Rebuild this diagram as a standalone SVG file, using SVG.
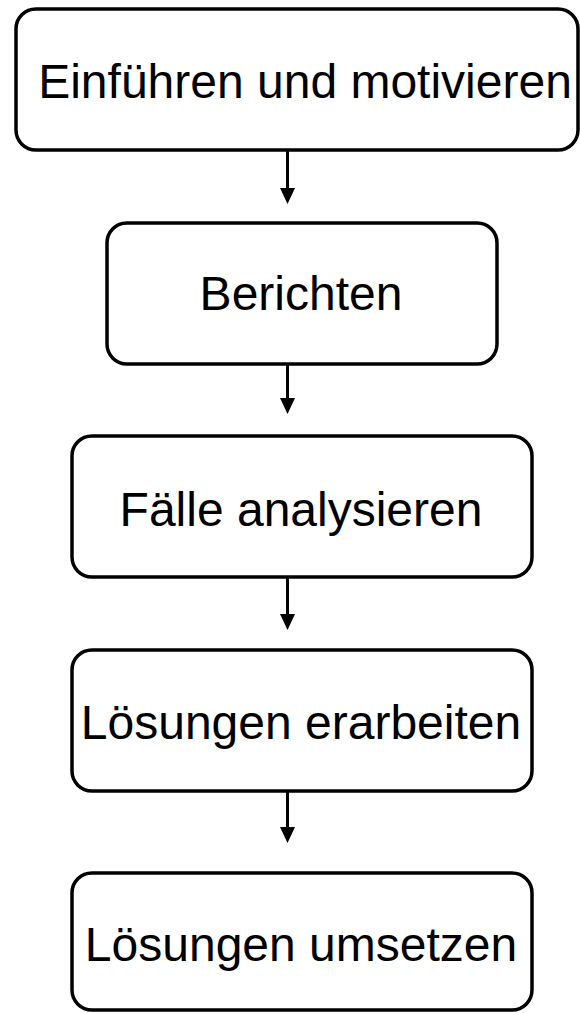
<svg xmlns="http://www.w3.org/2000/svg" width="580" height="1013" viewBox="0 0 580 1013">
<style>
.box{fill:#fff;stroke:#000;stroke-width:3.5}
.lbl{font-family:"Liberation Sans",Arial,sans-serif;font-size:48px;fill:#000;text-anchor:middle}
.edge{stroke:#000;stroke-width:3;fill:none}
.head{fill:#000}
</style>
<rect width="580" height="1013" fill="#fff"/>
<g id="n1"><rect class="box" x="16" y="9" width="562" height="141" rx="20"/><text class="lbl" x="305" y="98">Einführen und motivieren</text></g>
<g id="n2"><rect class="box" x="107" y="223" width="390" height="141" rx="20"/><text class="lbl" x="301" y="310">Berichten</text></g>
<g id="n3"><rect class="box" x="72" y="436" width="460" height="141" rx="20"/><text class="lbl" x="301" y="526">Fälle analysieren</text></g>
<g id="n4"><rect class="box" x="72" y="650" width="460" height="141" rx="20"/><text class="lbl" x="301" y="739">Lösungen erarbeiten</text></g>
<g id="n5"><rect class="box" x="72" y="873" width="460" height="137" rx="20"/><text class="lbl" x="301" y="961">Lösungen umsetzen</text></g>
<g id="connectors">
<line class="edge" x1="287.5" y1="150" x2="287.5" y2="190"/><polygon class="head" points="280,188 295,188 287.5,204"/>
<line class="edge" x1="287.5" y1="364" x2="287.5" y2="400"/><polygon class="head" points="280,398 295,398 287.5,414"/>
<line class="edge" x1="287.5" y1="577" x2="287.5" y2="616"/><polygon class="head" points="280,614 295,614 287.5,630"/>
<line class="edge" x1="287.5" y1="791" x2="287.5" y2="829"/><polygon class="head" points="280,827 295,827 287.5,843"/>
</g>
</svg>
